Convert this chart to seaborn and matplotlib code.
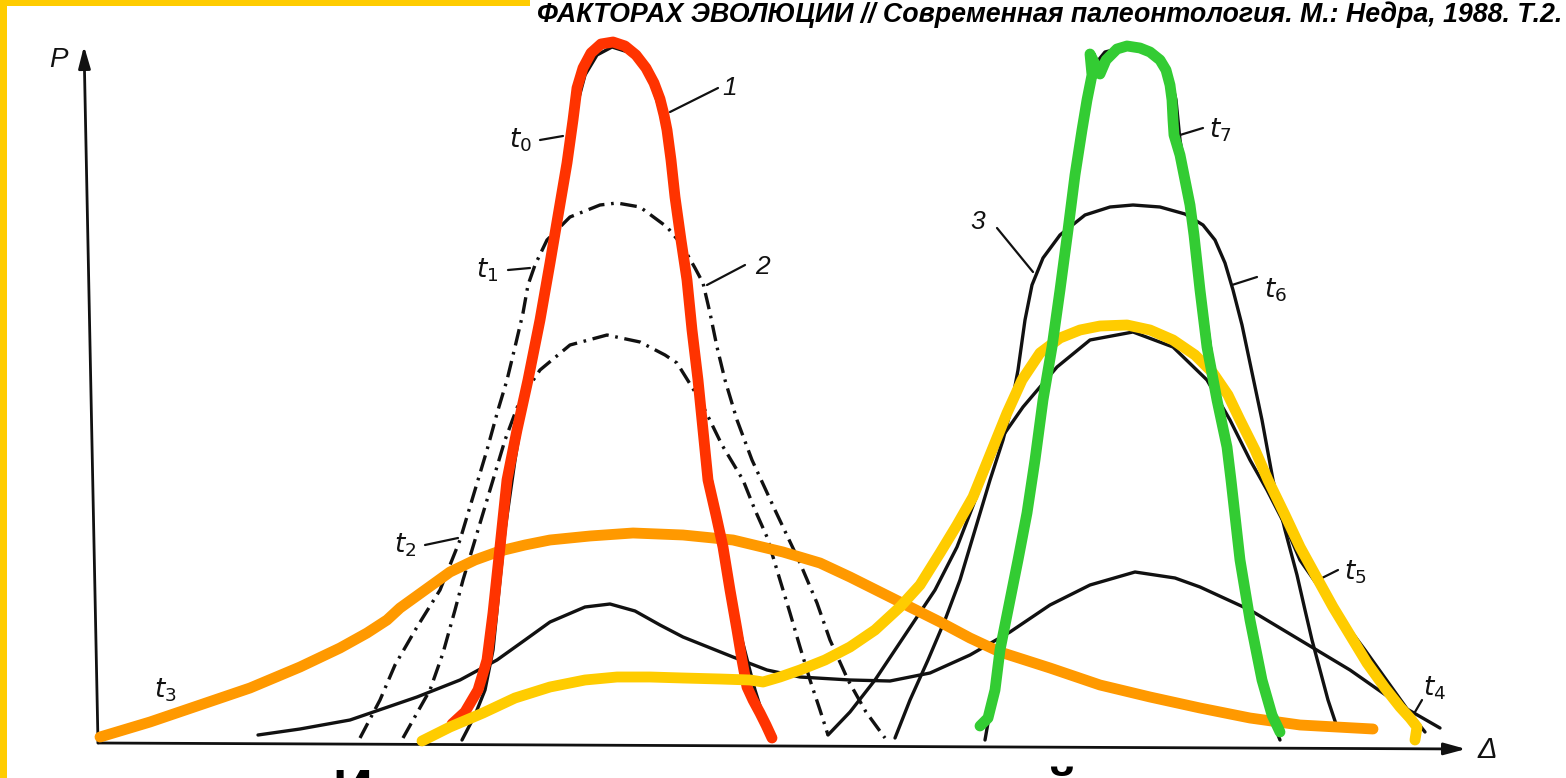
import matplotlib
matplotlib.use("Agg")
import matplotlib.pyplot as plt
from matplotlib.patches import Rectangle
import seaborn as sns
import numpy as np

# ---------------------------------------------------------------
# Reaction-norm curves P(Δ) at successive moments t0 … t7
# coordinates: Δ along the horizontal axis, P along the vertical axis
# ---------------------------------------------------------------

# original scheme, black curves
t0_delta = [364, 377, 387, 395, 400, 407, 417, 430, 442, 454, 464, 472, 479, 487, 499, 514,
            530, 544, 554, 562, 569, 574, 580, 587, 595, 602, 610, 620, 632, 644, 657, 672]
t0_p = [3, 28, 53, 93, 143, 213, 283, 363, 423, 483, 543, 593, 638, 668, 688, 696,
        691, 678, 658, 633, 603, 563, 513, 463, 403, 343, 283, 223, 163, 103, 53, 5]

t1_delta = [262, 282, 297, 319, 342, 362, 377, 389, 400, 409, 417, 425, 430, 437, 449, 472,
            502, 519, 542, 569, 584, 597, 605, 612, 619, 627, 639, 654, 677, 702, 719, 732,
            750, 768, 787]
t1_p = [5, 43, 78, 116, 153, 203, 253, 293, 333, 363, 396, 430, 458, 478, 503, 526,
        538, 540, 536, 516, 498, 475, 460, 430, 396, 363, 323, 283, 233, 180, 140, 103,
        63, 31, 5]

t2_delta = [305, 319, 332, 345, 357, 365, 377, 392, 407, 422, 442, 472, 509, 542, 567, 579,
            602, 624, 645, 657, 669, 682, 692, 702, 712, 722, 730]
t2_p = [5, 30, 53, 90, 133, 163, 203, 253, 303, 343, 373, 398, 408, 401, 388, 380,
        343, 298, 263, 233, 206, 163, 130, 96, 63, 33, 8]

t4_delta = [160, 202, 252, 319, 362, 399, 427, 452, 487, 512, 537, 562, 585, 635, 669, 702,
            752, 792, 832, 872, 912, 952, 992, 1037, 1077, 1102, 1152, 1202, 1252, 1302, 1342]
t4_p = [8, 14, 23, 46, 63, 83, 103, 121, 136, 139, 132, 118, 106, 86, 73, 66,
        63, 62, 70, 88, 111, 138, 158, 171, 165, 156, 133, 103, 73, 38, 15]

t5_delta = [730, 752, 777, 807, 837, 859, 885, 902, 925, 959, 992, 1035, 1075, 1109, 1132,
            1152, 1169, 1187, 1202, 1232, 1267, 1292, 1312, 1327]
t5_p = [8, 31, 63, 108, 153, 196, 263, 303, 336, 376, 403, 411, 396, 363, 323,
        283, 253, 218, 183, 140, 93, 58, 30, 11]

t6_delta = [797, 812, 830, 847, 862, 877, 892, 905, 912, 920, 927, 934, 945, 962, 987, 1012,
            1035, 1062, 1087, 1105, 1117, 1127, 1135, 1144, 1152, 1164, 1175, 1187, 1199,
            1207, 1214, 1222, 1230, 1239]
t6_p = [5, 43, 83, 123, 163, 213, 263, 303, 330, 373, 423, 458, 485, 508, 528, 536,
        538, 536, 529, 518, 503, 480, 453, 418, 380, 323, 263, 213, 168,
        133, 103, 73, 43, 16]

t7_delta = [887, 894, 902, 912, 922, 932, 942, 952, 960, 968, 976, 982, 988, 994, 1007, 1027,
            1047, 1062, 1072, 1078, 1082, 1088, 1095, 1102, 1110, 1120, 1130, 1140, 1150,
            1162, 1172, 1182]
t7_p = [3, 43, 88, 143, 198, 253, 323, 388, 443, 503, 563, 608, 648, 675, 691, 696,
        693, 685, 668, 643, 603, 568, 528, 473, 413, 343, 283, 213, 143,
        73, 28, 3]

# colour overlays
red_delta = [354, 367, 380, 389, 395, 402, 409, 419, 430, 442, 452, 461, 469, 475, 479, 485,
             493, 503, 515, 527, 538, 548, 556, 562, 566, 569, 573, 577, 583, 589, 594, 600,
             605, 610, 618, 625, 632, 639, 644, 649, 655, 662, 668, 674]
red_p = [19, 31, 53, 83, 130, 196, 263, 313, 363, 423, 480, 533, 580, 623, 655, 675,
         690, 699, 701, 697, 688, 675, 660, 644, 628, 613, 583, 546, 503, 463, 413, 363,
         313, 263, 228, 196, 153, 113, 83, 56, 43, 30, 18, 5]

green_delta = [882, 890, 897, 902, 910, 920, 929, 937, 945, 954, 962, 970, 977, 984, 989, 994,
               992, 1002, 1008, 1019, 1029, 1042, 1052, 1062, 1068, 1072, 1074, 1075, 1076,
               1082, 1087, 1092, 1096, 1102, 1109, 1119, 1129, 1133, 1142, 1152, 1164, 1174, 1182]
green_p = [17, 25, 53, 93, 133, 183, 230, 283, 343, 396, 453, 513, 568, 613, 643, 668,
           689, 669, 683, 694, 697, 695, 691, 683, 673, 658, 643, 623, 608,
           588, 563, 538, 508, 453, 396, 343, 296, 263, 183, 123, 63, 28, 11]

orange_delta = [2, 52, 102, 152, 202, 242, 269, 289, 302, 327, 352, 377, 402, 427, 452, 492,
                535, 585, 635, 685, 722, 752, 782, 812, 842, 872, 902, 952, 1002, 1052, 1102,
                1152, 1202, 1275]
orange_p = [6, 21, 38, 55, 76, 95, 110, 123, 135, 153, 171, 183, 192, 198, 203, 207,
            210, 208, 203, 191, 180, 166, 151, 136, 121, 105, 91, 75, 58, 46, 35,
            25, 18, 14]

yellow_delta = [324, 352, 385, 417, 452, 487, 519, 552, 585, 622, 652, 665, 682, 702, 727, 752,
                777, 802, 822, 842, 859, 875, 892, 909, 924, 942, 962, 982, 1002, 1029, 1052,
                1075, 1097, 1115, 1130, 1142, 1157, 1170, 1187, 1202, 1219, 1235, 1252, 1269,
                1287, 1302, 1312, 1319, 1317]
yellow_p = [2, 16, 30, 45, 56, 63, 66, 66, 65, 64, 63, 61, 66, 73, 83, 96,
            113, 136, 158, 190, 218, 246, 288, 330, 363, 390, 405, 413, 417, 418, 413,
            403, 388, 370, 348, 323, 293, 263, 228, 196, 165, 136, 108, 80,
            55, 36, 25, 16, 3]

# curve labels and their leader lines
label_texts = [r"$t_0$", "1", r"$t_1$", "2", r"$t_2$", r"$t_3$", "3",
               r"$t_6$", r"$t_7$", r"$t_5$", r"$t_4$"]
label_delta = [422, 632, 389, 664, 307, 67, 880, 1177, 1122, 1257, 1337]
label_p = [603, 655, 473, 476, 198, 53, 521, 453, 613, 171, 55]
leader_delta = [(442, 465), (572, 620), (410, 432), (609, 647), (327, 360), None,
                (899, 935), (1134, 1159), (1082, 1105), (1224, 1240), (1317, 1324)]
leader_p = [(603, 607), (631, 655), (473, 475), (458, 478), (198, 205), None,
            (515, 471), (458, 466), (608, 615), (165, 173), (31, 43)]

header_text = "ФАКТОРАХ ЭВОЛЮЦИИ // Современная палеонтология. М.: Недра, 1988. Т.2."
footer_text = "Изменение нормы реакций"

# ---------------------------------------------------------------
sns.set_theme(style="white")
plt.rcParams["font.family"] = ["Liberation Sans", "DejaVu Sans"]
plt.rcParams["mathtext.fontset"] = "dejavusans"

W, H = 1566, 778
fig = plt.figure(figsize=(W / 100, H / 100), dpi=100)
fig.patch.set_facecolor("white")
ax = fig.add_axes([0, 0, 1, 1])
ax.set_xlim(-98, W - 98)
ax.set_ylim(-35, H - 35)
ax.set_axis_off()

ink = "#111111"
black_lw = 2.4
dashdot = (0, (5, 2, 0.8, 2))


def curve(xs, ys, color, lw, ls="-", z=2):
    sns.lineplot(x=np.asarray(xs, float), y=np.asarray(ys, float), sort=False,
                 estimator=None, color=color, lw=lw, linestyle=ls, ax=ax, zorder=z,
                 solid_joinstyle="round", solid_capstyle="round",
                 dash_capstyle="butt")


# coordinate axes with arrows
ax.annotate("", xy=(-14, 697), xytext=(0, 0),
            arrowprops=dict(arrowstyle="-|>,head_length=1.1,head_width=0.3",
                            color=ink, lw=2.0, shrinkA=0, shrinkB=0))
ax.annotate("", xy=(1368, -6), xytext=(0, 0),
            arrowprops=dict(arrowstyle="-|>,head_length=1.1,head_width=0.3",
                            color=ink, lw=2.0, shrinkA=0, shrinkB=0))
ax.text(-40, 683, "P", fontsize=20, style="italic", ha="center", va="center", color=ink)
ax.text(1389, -7, "Δ", fontsize=21, style="italic", ha="center", va="center", color=ink)

# black curves of the original scheme
curve(t0_delta, t0_p, ink, black_lw)
curve(t1_delta, t1_p, ink, black_lw, dashdot)
curve(t2_delta, t2_p, ink, black_lw, dashdot)
curve(t4_delta, t4_p, ink, black_lw)
curve(t5_delta, t5_p, ink, black_lw)
curve(t6_delta, t6_p, ink, black_lw)
curve(t7_delta, t7_p, ink, black_lw)

for txt, lx, ly, ld, lp in zip(label_texts, label_delta, label_p, leader_delta, leader_p):
    ax.text(lx, ly, txt, fontsize=19, style="italic", ha="center", va="center",
            color=ink)
    if ld is not None:
        ax.plot(ld, lp, color=ink, lw=1.6, zorder=2)

# hand-drawn colour overlays
curve(orange_delta, orange_p, "#FF9900", 7.8, z=4)
curve(red_delta, red_p, "#FF3300", 7.8, z=5)
curve(yellow_delta, yellow_p, "#FFCC00", 7.8, z=6)
curve(green_delta, green_p, "#33CC33", 7.8, z=7)

# yellow frame pieces
fig.patches.append(Rectangle((0, 0), 7 / W, 1, transform=fig.transFigure,
                             facecolor="#FFCC00", edgecolor="none", zorder=10))
fig.patches.append(Rectangle((0, 1 - 6 / H), 530 / W, 6 / H, transform=fig.transFigure,
                             facecolor="#FFCC00", edgecolor="none", zorder=10))

# bibliographic header and slide heading (heading runs past the lower edge)
fig.text(1562 / W, 1 - 15 / H, header_text, fontsize=19.3, fontweight="bold",
         style="italic", ha="right", va="center", color="#000000")
fig.text(333 / W, 1 - 766 / H, footer_text, fontsize=40, fontweight="bold",
         ha="left", va="top", color="#000000")

fig.savefig("out.png", dpi=100, facecolor="white")
